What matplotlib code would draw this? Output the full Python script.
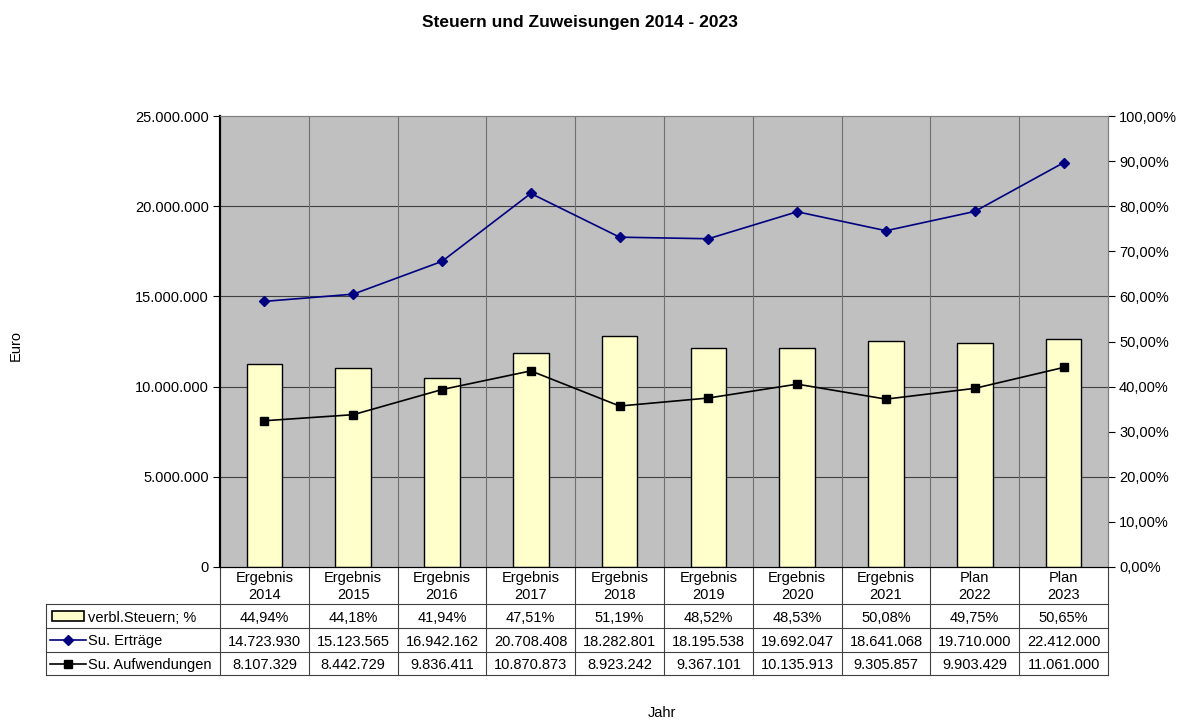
import numpy as np
import matplotlib.pyplot as plt
from matplotlib.transforms import blended_transform_factory
from matplotlib.patches import Rectangle
from matplotlib.lines import Line2D

plt.rcParams['font.family'] = ['Liberation Sans', 'DejaVu Sans']

# === Data ===
kategorien = ["Ergebnis\n2014", "Ergebnis\n2015", "Ergebnis\n2016", "Ergebnis\n2017",
              "Ergebnis\n2018", "Ergebnis\n2019", "Ergebnis\n2020", "Ergebnis\n2021",
              "Plan\n2022", "Plan\n2023"]
steuern_pct = [44.94, 44.18, 41.94, 47.51, 51.19, 48.52, 48.53, 50.08, 49.75, 50.65]
ertraege = [14723930, 15123565, 16942162, 20708408, 18282801,
            18195538, 19692047, 18641068, 19710000, 22412000]
aufwendungen = [8107329, 8442729, 9836411, 10870873, 8923242,
                9367101, 10135913, 9305857, 9903429, 11061000]
euro_ticks = [0, 5000000, 10000000, 15000000, 20000000, 25000000]
pct_ticks = list(range(0, 101, 10))


def fmt_euro(v):
    return f"{v:,}".replace(",", ".")


def fmt_pct(p):
    return f"{p:.2f}%".replace(".", ",")


fs = 10.5
fig = plt.figure(figsize=(11.81, 7.2), dpi=100)
ax = fig.add_axes([220 / 1181, 1 - 567 / 720, 888 / 1181, 451 / 720])
ax2 = ax.twinx()

x = np.arange(len(kategorien))

# bars on the percent axis (behind the lines)
ax2.set_zorder(0)
ax.set_zorder(1)
ax.patch.set_visible(False)
ax2.patch.set_facecolor('#C0C0C0')
ax2.patch.set_visible(True)

ax2.bar(x, steuern_pct, width=0.4, color='#FFFFCC', edgecolor='black', linewidth=1.0, zorder=3)
ax2.set_ylim(0, 100)
ax2.set_yticks(pct_ticks)
ax2.set_yticklabels([fmt_pct(p) for p in pct_ticks], fontsize=fs)

# gridlines (Euro grid drawn on percent axis so it sits behind bars)
for t in euro_ticks[1:-1]:
    ax2.axhline(t / euro_ticks[-1] * 100, color='#404040', linewidth=0.8, zorder=1)
for i in range(len(kategorien) - 1):
    ax2.axvline(i + 0.5, color='#707070', linewidth=0.8, zorder=1)

# lines on Euro axis
ax.plot(x, ertraege, color='#000080', marker='D', markersize=5, linewidth=1.2, zorder=4)
ax.plot(x, aufwendungen, color='black', marker='s', markersize=6, linewidth=1.2, zorder=4)
ax.set_ylim(0, 25000000)
ax.set_yticks(euro_ticks)
ax.set_yticklabels([fmt_euro(t) for t in euro_ticks], fontsize=fs)
ax.set_xlim(-0.5, len(kategorien) - 0.5)
ax.set_xticks([])

ax.tick_params(axis='y', length=5, width=0.8, direction='out', pad=3)
ax2.tick_params(axis='y', length=5, width=0.8, direction='out', pad=3)

for a in (ax, ax2):
    a.spines['top'].set_color('#808080')
    a.spines['right'].set_color('#808080')
    a.spines['left'].set_color('black')
    a.spines['left'].set_linewidth(1.5)
    a.spines['bottom'].set_color('black')

# === Data table below the plot ===
trans = blended_transform_factory(ax.transData, ax.transAxes)
h = 451.0
row_y = [0, -37 / h, -61 / h, -85 / h, -108 / h]   # row borders in axes fraction
left_x = -0.5 - 174 / 88.8                           # left edge of legend column

for i in range(len(kategorien) + 1):
    ax.add_line(Line2D([i - 0.5, i - 0.5], [row_y[0], row_y[-1]], transform=trans,
                       color='#404040', linewidth=0.8, clip_on=False))
ax.add_line(Line2D([left_x, left_x], [row_y[1], row_y[-1]], transform=trans,
                   color='#404040', linewidth=0.8, clip_on=False))
for yb in row_y[1:]:
    ax.add_line(Line2D([left_x, len(kategorien) - 0.5], [yb, yb], transform=trans,
                       color='#404040', linewidth=0.8, clip_on=False))

rows = [[fmt_pct(p) for p in steuern_pct],
        [fmt_euro(v) for v in ertraege],
        [fmt_euro(v) for v in aufwendungen]]
row_names = ["verbl.Steuern; %", "Su. Erträge", "Su. Aufwendungen"]

for i, k in enumerate(kategorien):
    ax.text(i, (row_y[0] + row_y[1]) / 2 - 1 / h, k, transform=trans, ha='center', va='center',
            fontsize=fs, linespacing=1.35)
for r, vals in enumerate(rows):
    yc = (row_y[r + 1] + row_y[r + 2]) / 2
    for i, v in enumerate(vals):
        ax.text(i, yc, v, transform=trans, ha='center', va='center_baseline', fontsize=fs)
    ax.text(left_x + 42 / 88.8, yc, row_names[r], transform=trans, ha='left',
            va='center_baseline', fontsize=fs)

# legend keys in table
y0 = (row_y[1] + row_y[2]) / 2
ax.add_patch(Rectangle((left_x + 6 / 88.8, y0 - 5 / h), 32 / 88.8, 10 / h, transform=trans,
                       facecolor='#FFFFCC', edgecolor='black', linewidth=1.2, clip_on=False))
y1 = (row_y[2] + row_y[3]) / 2
ax.add_line(Line2D([left_x + 4 / 88.8, left_x + 40 / 88.8], [y1, y1], transform=trans,
                   color='#000080', linewidth=1.2, clip_on=False))
ax.add_line(Line2D([left_x + 22 / 88.8], [y1], transform=trans, color='#000080',
                   marker='D', markersize=5, clip_on=False))
y2 = (row_y[3] + row_y[4]) / 2
ax.add_line(Line2D([left_x + 4 / 88.8, left_x + 40 / 88.8], [y2, y2], transform=trans,
                   color='black', linewidth=1.2, clip_on=False))
ax.add_line(Line2D([left_x + 22 / 88.8], [y2], transform=trans, color='black',
                   marker='s', markersize=6, clip_on=False))

# === Titles ===
fig.text(580 / 1181, 1 - 22 / 720, "Steuern und Zuweisungen 2014 - 2023",
         ha='center', va='center', fontsize=12.5, fontweight='bold')
fig.text(16 / 1181, 1 - 345 / 720, "Euro", rotation=90, ha='center', va='center', fontsize=fs)
fig.text(662 / 1181, 1 - 713 / 720, "Jahr", ha='center', va='center', fontsize=fs)

fig.savefig("out.png", dpi=100)
